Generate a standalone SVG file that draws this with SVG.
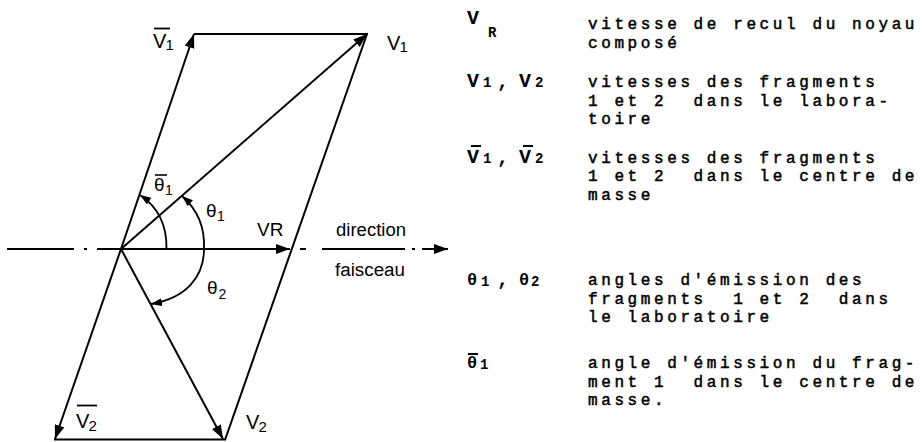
<svg xmlns="http://www.w3.org/2000/svg" width="922" height="442" viewBox="0 0 922 442">
<defs>
<style>
.ln{stroke:#000;stroke-width:2;fill:none;stroke-linecap:butt}
.arc{stroke:#000;stroke-width:1.8;fill:none}
.lbl{font-family:"Liberation Sans",Arial,sans-serif;fill:#000}
.mono{font-family:"Liberation Mono","Courier New",monospace;font-size:16px;letter-spacing:3.6px;fill:#000;stroke:#000;stroke-width:0.5;white-space:pre}
.sym{font-family:"Liberation Mono","Courier New",monospace;font-size:20px;font-weight:bold;fill:#000}
.sub{font-size:14px;font-weight:bold}
</style>
<marker id="ah" markerUnits="userSpaceOnUse" markerWidth="16" markerHeight="12" refX="14" refY="5" orient="auto">
<path d="M0,0 L14,5 L0,10 Z" fill="#000"/>
</marker>
<marker id="ahs" markerUnits="userSpaceOnUse" markerWidth="14" markerHeight="10" refX="11" refY="4" orient="auto">
<path d="M0,0 L11,4 L0,8 Z" fill="#000"/>
</marker>
</defs>
<rect width="922" height="442" fill="#fff"/>

<g id="connectors">
<g id="axis" class="ln">
<line x1="7" y1="249" x2="74" y2="249"/>
<line x1="84" y1="249" x2="87" y2="249"/>
<line x1="97" y1="249" x2="121" y2="249"/>
<line x1="300" y1="249" x2="306" y2="249"/>
<line x1="322" y1="249" x2="405" y2="249"/>
<line x1="412" y1="249" x2="415" y2="249"/>
<line x1="422" y1="249" x2="448" y2="249" marker-end="url(#ah)"/>
</g>
<line id="vR" class="ln" x1="121" y1="249" x2="290" y2="249" marker-end="url(#ah)"/>
<line id="v1" class="ln" x1="121" y1="249" x2="367" y2="34" stroke-width="2.4" marker-end="url(#ah)"/>
<line id="v1bar" class="ln" x1="121" y1="249" x2="194" y2="34" marker-end="url(#ah)"/>
<line id="v2" class="ln" x1="121" y1="249" x2="223" y2="439" marker-end="url(#ah)"/>
<line id="v2bar" class="ln" x1="121" y1="249" x2="55" y2="439" marker-end="url(#ah)"/>
<line id="edge-top" class="ln" x1="194" y1="34" x2="368" y2="34"/>
<line id="edge-right" class="ln" x1="367" y1="34" x2="225" y2="440"/>
<line id="edge-bottom" class="ln" x1="54" y1="439.5" x2="226" y2="439.5"/>
<path id="arc-theta1bar" class="arc" d="M166.5,249 C167,226 158,207 140,195" marker-end="url(#ahs)"/>
<path id="arc-theta1" class="arc" d="M204,249 C205,228 198,210 182,196" marker-end="url(#ahs)"/>
<path id="arc-theta2" class="arc" d="M204,249 C204,276 187,298 151,304" marker-end="url(#ahs)"/>
</g>

<g id="label-V1bar" class="lbl">
<line x1="154" y1="28.5" x2="170" y2="28.5" stroke="#000" stroke-width="1.8"/>
<text x="153" y="48" font-size="20">V<tspan x="165.5" y="50" font-size="15">1</tspan></text>
</g>
<g id="label-V1" class="lbl">
<text x="387" y="50" font-size="20">V<tspan x="399.5" y="52" font-size="15">1</tspan></text>
</g>
<g id="label-V2bar" class="lbl">
<line x1="77" y1="405.5" x2="97" y2="405.5" stroke="#000" stroke-width="1.8"/>
<text x="76" y="428" font-size="20">V<tspan x="88.5" y="431" font-size="15">2</tspan></text>
</g>
<g id="label-V2" class="lbl">
<text x="246" y="429" font-size="20">V<tspan x="258.5" y="432" font-size="15">2</tspan></text>
</g>
<g id="label-VR" class="lbl">
<text x="257" y="236" font-size="19">VR</text>
</g>
<g id="label-direction" class="lbl">
<text x="336" y="236" font-size="18" textLength="70" lengthAdjust="spacingAndGlyphs">direction</text>
</g>
<g id="label-faisceau" class="lbl">
<text x="335" y="276" font-size="18" textLength="70" lengthAdjust="spacingAndGlyphs">faisceau</text>
</g>
<g id="label-theta1" class="lbl">
<text x="206" y="217" font-size="19">θ<tspan x="217" y="221" font-size="14">1</tspan></text>
</g>
<g id="label-theta1bar" class="lbl">
<line x1="155" y1="175" x2="167" y2="175" stroke="#000" stroke-width="1.6"/>
<text x="154" y="191" font-size="19">θ<tspan x="165" y="194.5" font-size="14">1</tspan></text>
</g>
<g id="label-theta2" class="lbl">
<text x="207" y="293.5" font-size="19">θ<tspan x="218.5" y="298.5" font-size="14">2</tspan></text>
</g>

<g id="legend">
<g id="legend-VR">
<text class="sym" x="467" y="24">V<tspan class="sub" x="488" y="37" font-size="16">R</tspan></text>
<text class="mono" x="588" y="29">vitesse de recul du noyau<tspan x="588" dy="18.5">composé</tspan></text>
</g>
<g id="legend-V1V2">
<text class="sym" x="467" y="87">V<tspan class="sub" x="483">1</tspan><tspan x="497">,</tspan><tspan x="519">V</tspan><tspan class="sub" x="535">2</tspan></text>
<text class="mono" x="588" y="87">vitesses des fragments<tspan x="588" dy="18.5">1 et 2  dans le labora-</tspan><tspan x="588" dy="18.5">toire</tspan></text>
</g>
<g id="legend-V1V2bar">
<line x1="471" y1="146" x2="481" y2="146" stroke="#000" stroke-width="2"/>
<line x1="523" y1="146" x2="533" y2="146" stroke="#000" stroke-width="2"/>
<text class="sym" x="467" y="163">V<tspan class="sub" x="483">1</tspan><tspan x="497">,</tspan><tspan x="519">V</tspan><tspan class="sub" x="535">2</tspan></text>
<text class="mono" x="588" y="163">vitesses des fragments<tspan x="588" dy="18.3">1 et 2  dans le centre de</tspan><tspan x="588" dy="18.3">masse</tspan></text>
</g>
<g id="legend-theta">
<text class="sym" x="467" y="285"><tspan font-size="17">θ</tspan><tspan class="sub" x="481" y="286">1</tspan><tspan x="497" y="285">,</tspan><tspan x="519" font-size="17">θ</tspan><tspan class="sub" x="531" y="286">2</tspan></text>
<text class="mono" x="588" y="285">angles d'émission des<tspan x="588" dy="18.5">fragments  1 et 2  dans</tspan><tspan x="588" dy="18.5">le laboratoire</tspan></text>
</g>
<g id="legend-theta1bar">
<line x1="468" y1="354" x2="478" y2="354" stroke="#000" stroke-width="2"/>
<text class="sym" x="467" y="368"><tspan font-size="17">θ</tspan><tspan class="sub" x="480" y="369">1</tspan></text>
<text class="mono" x="588" y="368">angle d'émission du frag-<tspan x="588" dy="18.5">ment 1  dans le centre de</tspan><tspan x="588" dy="18.5">masse.</tspan></text>
</g>
</g>
</svg>
